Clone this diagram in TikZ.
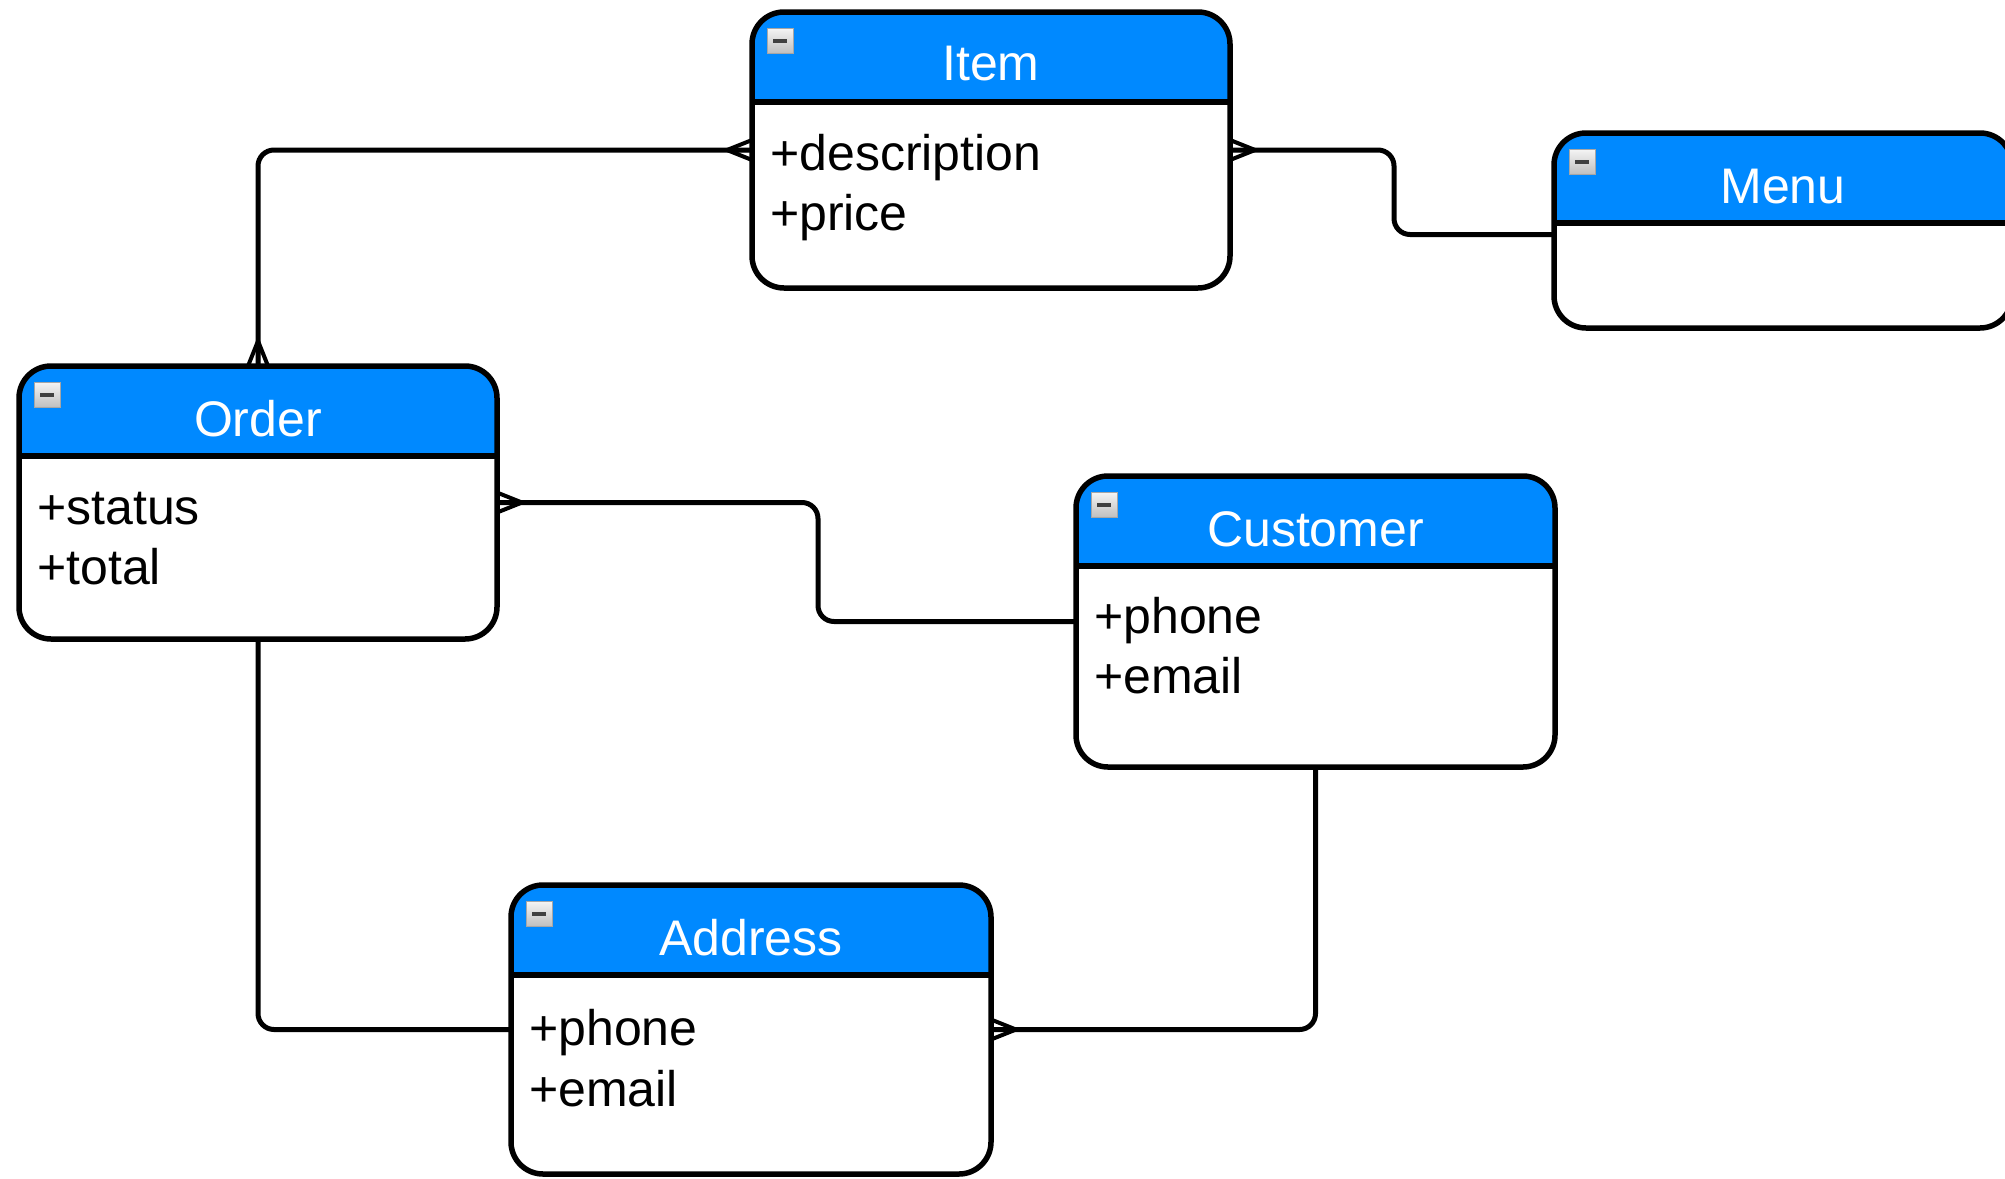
\documentclass[tikz,border=0pt]{standalone}
\usepackage{fontspec}
\setmainfont{Liberation Sans}
\definecolor{hdrblue}{RGB}{0,137,255}
\tikzset{
  entity/.style={draw=black, line width=5.5pt, fill=white, rounded corners=32pt,
    inner sep=0pt, outer sep=0pt,
    path picture={
      \fill[hdrblue, sharp corners] (path picture bounding box.north west) rectangle ([yshift=-90pt]path picture bounding box.north east);
      \draw[line width=6pt, sharp corners] ([yshift=-90pt]path picture bounding box.north west) -- ([yshift=-90pt]path picture bounding box.north east);
    }},
  ttl/.style={text=white, font=\fontsize{50}{60}\selectfont, anchor=base, inner sep=0pt},
  attr/.style={text=black, font=\fontsize{50}{60}\selectfont, anchor=base west, inner sep=0pt},
  conn/.style={line width=5pt, rounded corners=16pt},
  crow/.style={line width=4pt, line join=round, line cap=round},
}
\newcommand{\crowfoot}[2]{\draw[crow, shift={(#1)}, rotate=#2] (0,10) -- (25,0) -- (0,-10) (0,0) -- (25,0);}
\newcommand{\minusicon}[1]{%
  \shade[top color=gray!8, bottom color=gray!50, draw=gray!70, line width=0.8pt]
    ([shift={(15pt,-16pt)}]#1.north west) rectangle ([shift={(41pt,-41pt)}]#1.north west);
  \fill[black!75] ([shift={(21pt,-26.5pt)}]#1.north west) rectangle ([shift={(35pt,-30.5pt)}]#1.north west);}
\begin{document}
\begin{tikzpicture}[x=1pt, y=1pt]
\useasboundingbox (0,0) rectangle (2005,-1178);
\clip (0,0) rectangle (2005,-1178);
\fill[white] (0,0) rectangle (2005,-1178);

% entities
\node[entity, minimum width=478pt, minimum height=276pt] (item) at (991,-150) {};
\node[entity, minimum width=458pt, minimum height=195pt] (menu) at (1783,-230.5) {};
\node[entity, minimum width=478pt, minimum height=273pt] (order) at (258,-502.5) {};
\node[entity, minimum width=479pt, minimum height=291pt] (customer) at (1315.5,-621.5) {};
\node[entity, minimum width=480pt, minimum height=289pt] (address) at (751,-1029.5) {};

\foreach \e in {item,menu,order,customer,address} {\minusicon{\e}}

% titles
\node[ttl] (item-t) at ([yshift=-68pt]item.north) {Item};
\node[ttl] (menu-t) at ([yshift=-70pt]menu.north) {Menu};
\node[ttl] (order-t) at ([yshift=-70pt]order.north) {Order};
\node[ttl] (customer-t) at ([yshift=-70pt]customer.north) {Customer};
\node[ttl] (address-t) at ([yshift=-70pt]address.north) {Address};

% attributes
\node[attr] (item-a1) at ([shift={(18pt,-158pt)}]item.north west) {+description};
\node[attr] (item-a2) at ([shift={(18pt,-218pt)}]item.north west) {+price};
\node[attr] (order-a1) at ([shift={(18pt,-158pt)}]order.north west) {+status};
\node[attr] (order-a2) at ([shift={(18pt,-218pt)}]order.north west) {+total};
\node[attr] (customer-a1) at ([shift={(18pt,-157pt)}]customer.north west) {+phone};
\node[attr] (customer-a2) at ([shift={(18pt,-217pt)}]customer.north west) {+email};
\node[attr] (address-a1) at ([shift={(18pt,-160pt)}]address.north west) {+phone};
\node[attr] (address-a2) at ([shift={(18pt,-221pt)}]address.north west) {+email};

% connectors
\coordinate (k2) at (1394,0);
\coordinate (k3) at (818,0);
\coordinate (menu-in) at ([yshift=-4pt]menu.west);
\draw[conn] (item.west) -| (order.north);
\draw[conn] (item.east) -- (k2 |- item.east) |- (menu-in);
\draw[conn] (order.east) -- (k3 |- order.east) |- (customer.west);
\draw[conn] (order.south) |- (address.west);
\draw[conn] (customer.south) |- (address.east);

% crow's feet
\crowfoot{item.west}{180}
\crowfoot{order.north}{90}
\crowfoot{item.east}{0}
\crowfoot{order.east}{0}
\crowfoot{address.east}{0}
\end{tikzpicture}
\end{document}
